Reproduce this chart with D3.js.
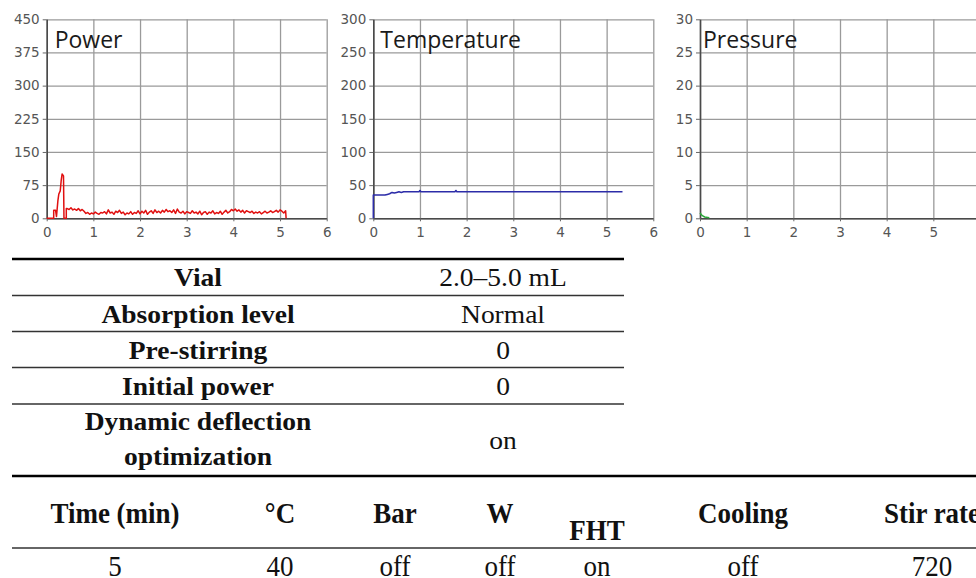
<!DOCTYPE html>
<html>
<head>
<meta charset="utf-8">
<script src="https://cdn.jsdelivr.net/npm/d3@7"></script>
<style>
  body { margin: 0; background: #fff; overflow: hidden; }
  svg { display: block; }
</style>
</head>
<body>
<svg id="fig" width="976" height="578"></svg>
<script>
// axis ticks
const timeTicks = [0, 1, 2, 3, 4, 5, 6];
const powerTicks = [0, 75, 150, 225, 300, 375, 450];
const tempTicks = [0, 50, 100, 150, 200, 250, 300];
const pressTicks = [0, 5, 10, 15, 20, 25, 30];

// power (W): start-up as [min, W]
const powerRamp = [[0, 0], [0.15, 0], [0.15, 18], [0.19, 18], [0.21, 4], [0.24, 40],
  [0.26, 55], [0.29, 62], [0.31, 85], [0.33, 100], [0.36, 96], [0.37, 0], [0.42, 0], [0.42, 22]];
// power logged every 0.04 min from 0.44 min
const powerLogStart = 0.44, powerLogStep = 0.04;
const powerLog = [
  22, 20, 24, 19, 21, 18, 22, 17, 20, 16,
  11, 13, 9, 12, 10, 14, 11, 9, 13, 12,
  15, 10, 19, 12, 14, 9, 16, 13, 18, 11,
  14, 8, 12, 10, 15, 9, 13, 11, 17, 10,
  16, 12, 18, 9, 14, 17, 11, 19, 13, 16,
  12, 18, 14, 20, 15, 17, 13, 19, 11, 21,
  14, 12, 16, 10, 15, 13, 11, 17, 12, 14,
  10, 16, 8, 13, 15, 9, 14, 12, 17, 10,
  13, 11, 16, 9, 14, 18, 12, 15, 20, 17,
  21, 16, 19, 14, 18, 12, 17, 15, 13, 16,
  11, 14, 12, 15, 10, 13, 16, 12, 14, 17,
  13, 15, 18, 14, 19, 16, 12, 17
];
const powerStop = [[5.13, 0]];

// temperature (°C) as [min, °C]
const tempSeries = [[0, 0], [0, 35], [0.25, 35], [0.3, 36], [0.35, 37], [0.4, 39], [0.45, 38],
  [0.5, 39], [0.55, 40], [0.6, 39], [0.65, 40], [0.98, 40], [1.0, 42], [1.02, 40],
  [1.75, 40], [1.77, 42], [1.79, 40], [5.34, 40]];

// pressure (bar) as [min, bar]
const pressSeries = [[0, 0.8], [0.05, 0.4], [0.1, 0.2], [0.2, 0.1]];

// tables
const setupLabels = ["Vial", "Absorption level", "Pre-stirring", "Initial power", ["Dynamic deflection", "optimization"]];
const setupValues = ["2.0–5.0 mL", "Normal", "0", "0", "on"];
const progHeaders = ["Time (min)", "°C", "Bar", "W", "FHT", "Cooling", "Stir rate"];
const progValues = ["5", "40", "off", "off", "on", "off", "720"];

const powerData = powerRamp
  .concat(powerLog.map((v, i) => [powerLogStart + i * powerLogStep, v]))
  .concat(powerStop);

const svg = d3.select("#fig");

// ---- charts ----
const plotW = 280, plotH = 199, plotTop = 19.3;
const panels = [
  { title: "Power", ticks: powerTicks, data: powerData, color: "#e01010", left: 46.7, titleX: 8 },
  { title: "Temperature", ticks: tempTicks, data: tempSeries, color: "#2c2ca8", left: 373.3, titleX: 7 },
  { title: "Pressure", ticks: pressTicks, data: pressSeries, color: "#2ca83a", left: 700, titleX: 3 },
];

const x = d3.scaleLinear().domain([0, 6]).range([0, plotW]);

panels.forEach((p) => {
  const y = d3.scaleLinear().domain([0, d3.max(p.ticks)]).range([plotH, 0]);
  const g = svg.append("g").attr("transform", `translate(${p.left},${plotTop})`);

  // grid
  const gy = g.append("g").call(d3.axisLeft(y).tickValues(p.ticks).tickSize(-plotW).tickFormat(""));
  const gx = g.append("g").attr("transform", `translate(0,${plotH})`)
    .call(d3.axisBottom(x).tickValues(timeTicks).tickSize(-plotH).tickFormat(""));
  [gy, gx].forEach((a) => {
    a.select(".domain").remove();
    a.selectAll("line").attr("stroke", "#9a9a9a").attr("stroke-width", 1.3);
  });

  // axes
  const ay = g.append("g")
    .call(d3.axisLeft(y).tickValues(p.ticks).tickFormat(d3.format("d")).tickSize(4).tickSizeOuter(0).tickPadding(3));
  const ax = g.append("g").attr("transform", `translate(0,${plotH})`)
    .call(d3.axisBottom(x).tickValues(timeTicks).tickFormat(d3.format("d")).tickSize(3).tickSizeOuter(0).tickPadding(6));
  [ay, ax].forEach((a) => {
    a.select(".domain").attr("stroke", "#4a4a4a").attr("stroke-width", 1.6);
    a.selectAll("line").attr("stroke", "#666");
    a.selectAll("text")
      .attr("font-family", "DejaVu Sans, Verdana, sans-serif")
      .attr("font-size", 13.5)
      .attr("fill", "#555");
  });

  // series
  g.append("path")
    .datum(p.data)
    .attr("fill", "none")
    .attr("stroke", p.color)
    .attr("stroke-width", 1.5)
    .attr("stroke-linejoin", "round")
    .attr("d", d3.line().x((d) => x(d[0])).y((d) => y(d[1])));

  g.append("text")
    .attr("x", p.titleX)
    .attr("y", 48 - plotTop)
    .attr("font-family", "Open Sans, sans-serif")
    .attr("font-size", 23)
    .attr("fill", "#1a1a1a")
    .text(p.title);
});

// ---- setup table ----
const serif = "Liberation Serif, Times New Roman, serif";
const t1 = svg.append("g");
const t1Rules = [259, 295.5, 331.5, 367.5, 404, 476];
const t1Left = 12, t1Right = 624;
const t1Cols = [198, 503];

t1Rules.forEach((yy, i) => {
  const heavy = i === 0 || i === t1Rules.length - 1;
  t1.append("line")
    .attr("x1", t1Left)
    .attr("x2", i === t1Rules.length - 1 ? 976 : t1Right)
    .attr("y1", yy).attr("y2", yy)
    .attr("stroke", heavy ? "#000" : "#333")
    .attr("stroke-width", heavy ? 2.6 : 1.3);
});

function cell(gr, txt, cx, by, opts) {
  gr.append("text")
    .attr("transform", `translate(${cx},${by}) scale(${opts.sx},1)`)
    .attr("text-anchor", "middle")
    .attr("font-family", serif)
    .attr("font-size", opts.size)
    .attr("font-weight", opts.bold ? "bold" : "normal")
    .attr("fill", "#111")
    .text(txt);
}

setupLabels.forEach((lab, i) => {
  const mid = (t1Rules[i] + t1Rules[i + 1]) / 2;
  if (Array.isArray(lab)) {
    cell(t1, lab[0], t1Cols[0], mid - 10, { sx: 1.1, size: 25, bold: true });
    cell(t1, lab[1], t1Cols[0], mid + 25, { sx: 1.1, size: 25, bold: true });
  } else {
    cell(t1, lab, t1Cols[0], mid + 9, { sx: 1.1, size: 25, bold: true });
  }
  cell(t1, setupValues[i], t1Cols[1], mid + 9, { sx: 1.1, size: 25, bold: false });
});

// ---- program table ----
const t2 = svg.append("g");
const t2Cols = [115, 280, 395, 500, 597, 743, 932];
t2.append("line")
  .attr("x1", 12).attr("x2", 976)
  .attr("y1", 548).attr("y2", 548)
  .attr("stroke", "#333").attr("stroke-width", 1.3);

progHeaders.forEach((h, i) => {
  cell(t2, h, t2Cols[i], h === "FHT" ? 540 : 523, { sx: 0.9, size: 30, bold: true });
  cell(t2, progValues[i], t2Cols[i], 576, { sx: 0.9, size: 30, bold: false });
});
</script>
</body>
</html>
